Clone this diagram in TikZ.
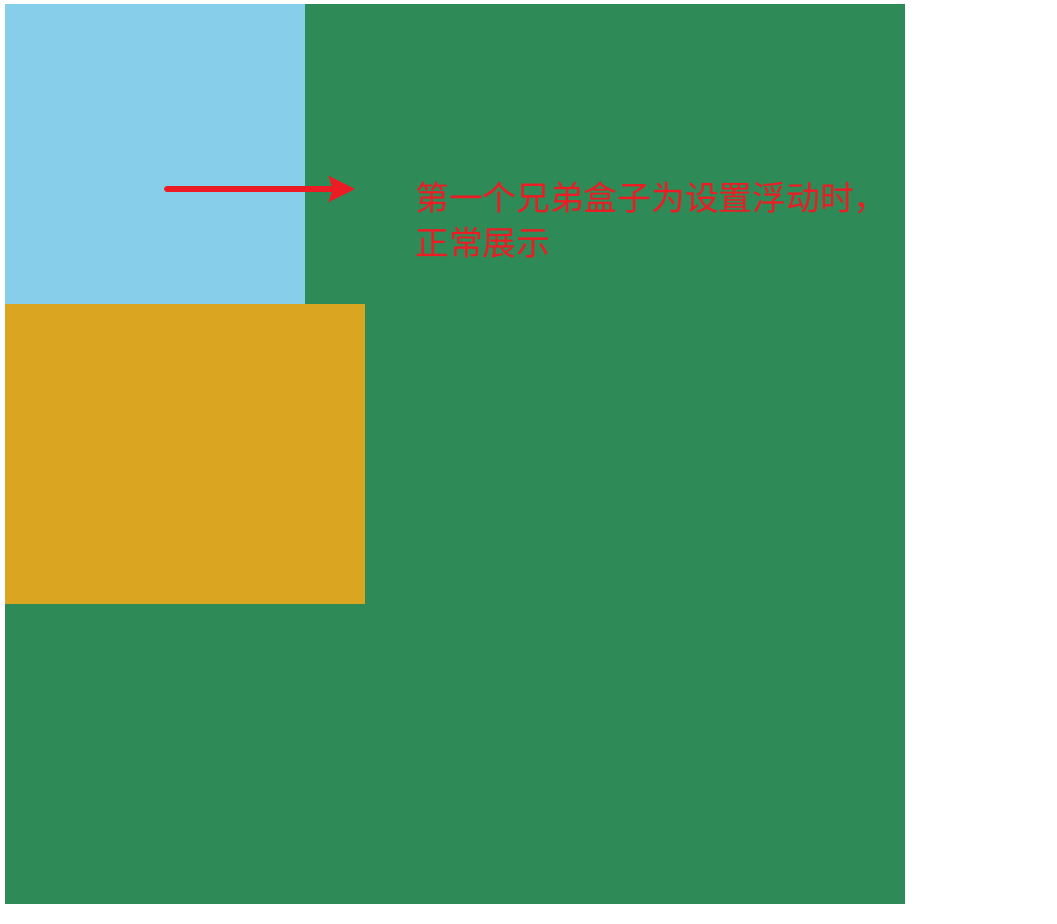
\documentclass[tikz,border=0pt]{standalone}
\usepackage{fontspec}
\newfontfamily\cjk{Noto Sans CJK SC}
\usetikzlibrary{arrows.meta,positioning}
\definecolor{boxgreen}{RGB}{46,139,87}
\definecolor{boxblue}{RGB}{135,206,235}
\definecolor{boxgold}{RGB}{218,165,32}
\definecolor{notered}{RGB}{237,28,36}

\begin{document}
\begin{tikzpicture}[x=0.75pt, y=-0.75pt,
  note/.style={text=notered, font=\cjk\fontsize{25.3pt}{33.75pt}\selectfont, align=left, inner sep=0pt},
  pointer/.style={draw=notered, line width=4.5pt, line cap=round, -{Stealth[length=19.5pt, width=19pt, inset=3pt]}}
]
  \useasboundingbox (0,0) rectangle (1057,924);
  % boxes
  \fill[boxgreen] (5,4) rectangle (905,904);
  \fill[boxblue] (5,4) rectangle (305,304);
  \fill[boxgold] (5,304) rectangle (365,604);
  % note
  \coordinate (tail) at (167,189);
  \coordinate (head) at (355,189);
  \draw[pointer] (tail) -- (head);
  \node[note, anchor=base west] (msg) at (415,255) {第一个兄弟盒子为设置浮动时，\\正常展示};
\end{tikzpicture}
\end{document}
